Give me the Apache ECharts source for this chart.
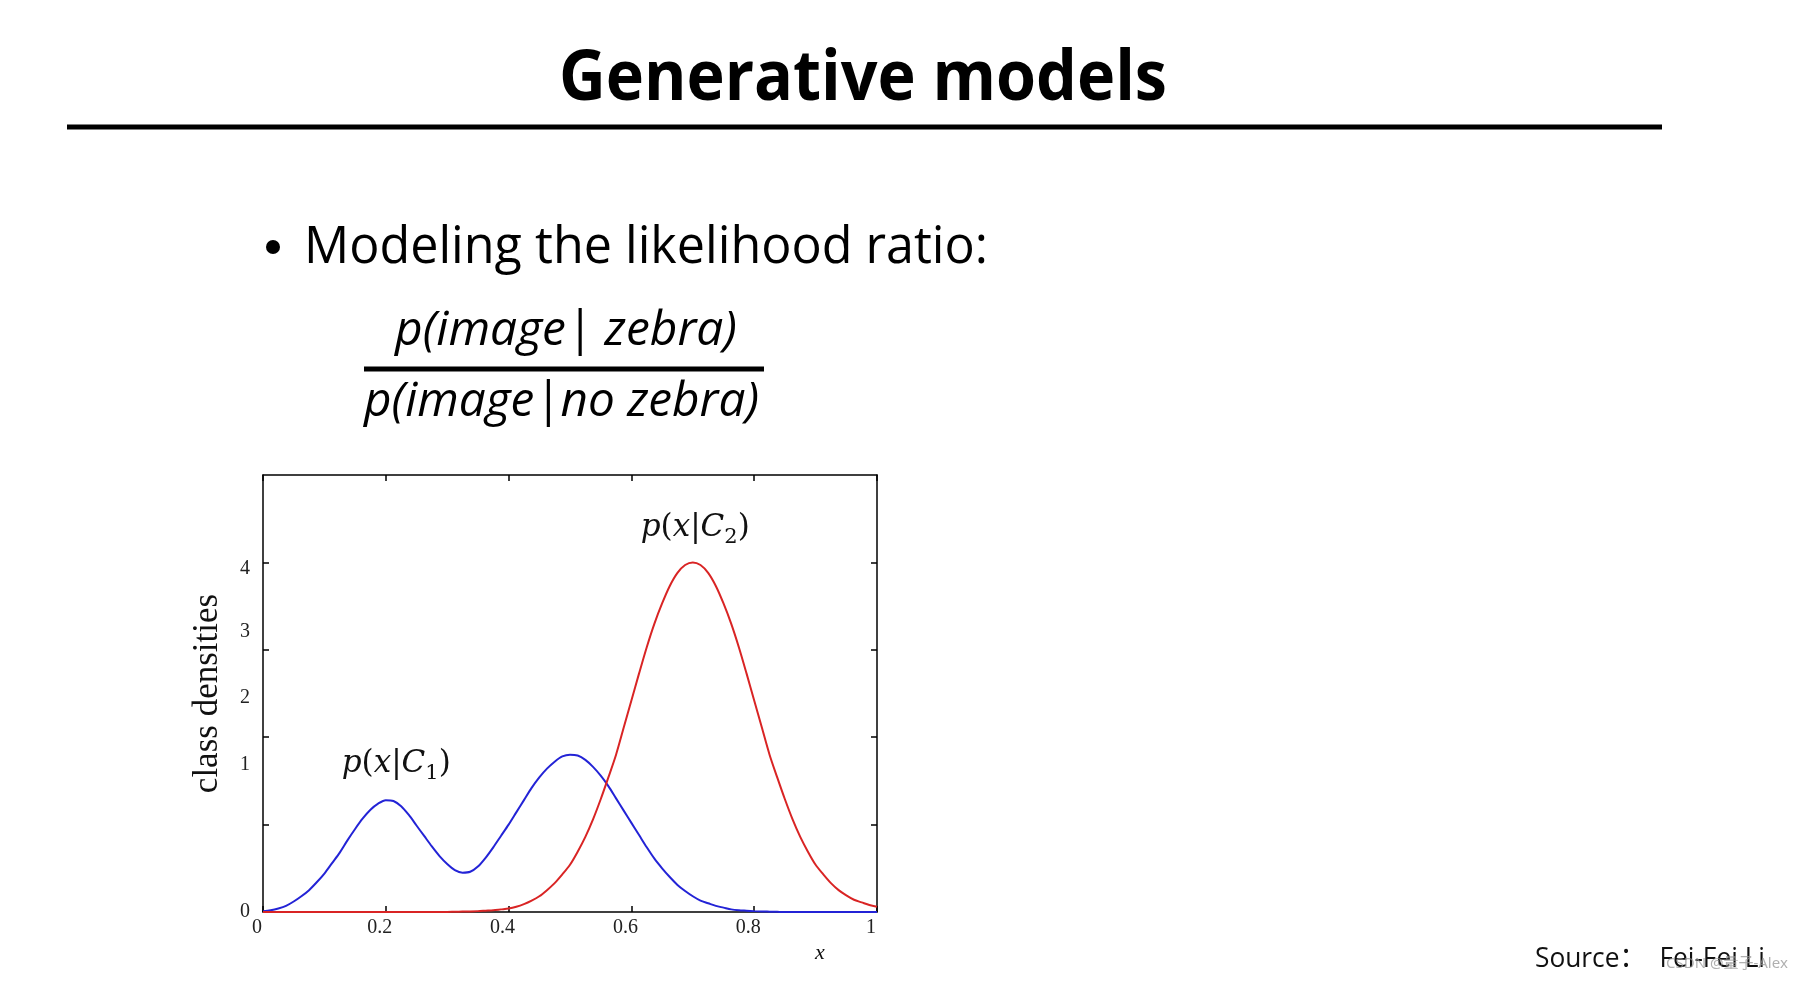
<!DOCTYPE html>
<html><head><meta charset="utf-8">
<script src="https://cdn.jsdelivr.net/npm/echarts@6/dist/echarts.min.js"></script>
<style>html,body{margin:0;padding:0;background:#fff;}#c{width:1812px;height:982px;}</style>
</head><body><div id="c"></div>
<script>
// ---- data ----
const xValues = [0,0.0125,0.025,0.0375,0.05,0.0625,0.075,0.0875,0.1,0.1125,0.125,0.1375,0.15,0.1625,0.175,0.1875,0.2,0.2125,0.225,0.2375,0.25,0.2625,0.275,0.2875,0.3,0.3125,0.325,0.3375,0.35,0.3625,0.375,0.3875,0.4,0.4125,0.425,0.4375,0.45,0.4625,0.475,0.4875,0.5,0.5125,0.525,0.5375,0.55,0.5625,0.575,0.5875,0.6,0.6125,0.625,0.6375,0.65,0.6625,0.675,0.6875,0.7,0.7125,0.725,0.7375,0.75,0.7625,0.775,0.7875,0.8,0.8125,0.825,0.8375,0.85,0.8625,0.875,0.8875,0.9,0.9125,0.925,0.9375,0.95,0.9625,0.975,0.9875,1];
const c1Density = [0.01,0.02,0.04,0.07,0.12,0.18,0.25,0.34,0.44,0.56,0.68,0.82,0.95,1.07,1.17,1.24,1.28,1.27,1.21,1.11,0.99,0.87,0.75,0.64,0.55,0.48,0.45,0.46,0.52,0.62,0.74,0.87,1.00,1.14,1.28,1.42,1.54,1.64,1.72,1.78,1.80,1.79,1.74,1.66,1.56,1.44,1.30,1.16,1.02,0.88,0.74,0.61,0.50,0.40,0.31,0.24,0.18,0.13,0.10,0.07,0.05,0.03,0.02,0.015,0.01,0.006,0.004,0.002,0,0,0,0,0,0,0,0,0,0,0,0,0];
const c2Density = [0,0,0,0,0,0,0,0,0,0,0,0,0,0,0,0,0,0,0,0,0,0,0,0,0,0.003,0.005,0.007,0.01,0.015,0.02,0.03,0.04,0.06,0.09,0.13,0.18,0.25,0.33,0.43,0.54,0.69,0.86,1.06,1.29,1.54,1.80,2.11,2.42,2.73,3.03,3.30,3.53,3.73,3.88,3.97,4.00,3.97,3.88,3.73,3.53,3.30,3.03,2.73,2.42,2.11,1.80,1.54,1.29,1.06,0.86,0.69,0.54,0.43,0.33,0.25,0.19,0.14,0.11,0.08,0.06];
const xTickLabels = ['0','0.2','0.4','0.6','0.8','1'];
const xTickValues = [0,0.2,0.4,0.6,0.8,1];
const yTickLabels = ['0','1','2','3','4'];
const yTickLabelValues = [0, 1.69, 2.45, 3.21, 3.93];
const c1LabelAt = [0.217, 1.69];
const c2LabelAt = [0.704, 4.39];
const titleText = 'Generative models';
const bulletText = 'Modeling the likelihood ratio:';
const numeratorText = 'p(image| zebra)';
const denominatorText = 'p(image|no zebra)';
const sourceText = 'Source\uFF1A  Fei-Fei Li';
const watermarkText = 'CSDN @量子-Alex';
const yAxisName = 'class densities';
const xAxisName = 'x';

// ---- helpers ----
const mctx = document.createElement('canvas').getContext('2d');
function fit(text, font, width){ mctx.font = font; return width / mctx.measureText(text).width; }
function labelFor(values, labels, v){
  for (let i = 0; i < values.length; i++) { if (Math.abs(values[i] - v) < 1e-6) return labels[i]; }
  return '';
}

const fTitle = 'bold 70px "Open Sans"';
const fBullet = '51px "Open Sans"';
const fFrac = 'italic 48px "Open Sans"';
const fSource = '28px "Open Sans", "Noto Sans CJK SC"';

const chart = echarts.init(document.getElementById('c'), null, {renderer:'canvas'});
const c1Data = xValues.map((x,i)=>[x, c1Density[i]]);
const c2Data = xValues.map((x,i)=>[x, c2Density[i]]);
const serif = '"Liberation Serif", "Times New Roman", serif';
const mathFont = '"DejaVu Serif", serif';
const richMath = {
  i:{fontFamily:mathFont, fontStyle:'italic', fontSize:31, lineHeight:40, color:'#111'},
  n:{fontFamily:mathFont, fontSize:31, lineHeight:40, color:'#111'},
  s:{fontFamily:mathFont, fontSize:21, lineHeight:20, verticalAlign:'bottom', color:'#111'}
};
function mathLabel(sub){ return '{i|p}{n|(}{i|x}{n||}{i|C}{s|' + sub + '}{n|)}'; }

const axisLineStyle = {show:true, onZero:false, lineStyle:{color:'#000', width:1.5}};
const tickStyle = {color:'#000', width:1.5};
chart.setOption({
  backgroundColor:'#fff',
  animation:false,
  grid:{left:263, top:475, right:935, bottom:70, containLabel:false},
  xAxis:[{
    type:'value', min:0, max:1, interval:0.2, position:'bottom',
    axisLine:axisLineStyle,
    axisTick:{show:true, inside:true, length:6, lineStyle:tickStyle},
    axisLabel:{show:true, margin:6, fontFamily:serif, fontSize:20, color:'#222', padding:[0,12,0,0],
      formatter:(v)=>labelFor(xTickValues, xTickLabels, v)},
    splitLine:{show:false},
    name:xAxisName, nameLocation:'middle', nameGap:30,
    nameTextStyle:{fontFamily:serif, fontStyle:'italic', fontSize:22, color:'#111', padding:[0,0,0,500]}
  },{
    type:'value', min:0, max:1, interval:0.2, position:'top',
    axisLine:axisLineStyle,
    axisTick:{show:true, inside:true, length:6, lineStyle:tickStyle},
    axisLabel:{show:false}, splitLine:{show:false}
  }],
  yAxis:[{
    type:'value', min:0, max:5, interval:1, position:'left',
    axisLine:axisLineStyle,
    axisTick:{show:true, inside:true, length:6, customValues:[1,2,3,4], lineStyle:tickStyle},
    axisLabel:{show:true, margin:13, fontFamily:serif, fontSize:20, color:'#222',
      customValues:yTickLabelValues, formatter:(v)=>labelFor(yTickLabelValues, yTickLabels, v)},
    splitLine:{show:false},
    name:yAxisName, nameLocation:'middle', nameRotate:90, nameGap:38,
    nameTextStyle:{fontFamily:serif, fontSize:35, color:'#111'}
  },{
    type:'value', min:0, max:5, interval:1, position:'right',
    axisLine:axisLineStyle,
    axisTick:{show:true, inside:true, length:6, customValues:[1,2,3,4], lineStyle:tickStyle},
    axisLabel:{show:false}, splitLine:{show:false}
  }],
  series:[{
    name:'p(x|C1)', type:'line', xAxisIndex:0, yAxisIndex:0, data:c1Data,
    showSymbol:false, smooth:0.3, lineStyle:{color:'#2323d6', width:2},
    markPoint:{symbol:'circle', symbolSize:1, itemStyle:{color:'rgba(0,0,0,0)'},
      label:{show:true, position:'inside', formatter:mathLabel('1'), rich:richMath},
      data:[{coord:c1LabelAt}]}
  },{
    name:'p(x|C2)', type:'line', xAxisIndex:0, yAxisIndex:0, data:c2Data,
    showSymbol:false, smooth:0.3, lineStyle:{color:'#d92424', width:2},
    markPoint:{symbol:'circle', symbolSize:1, itemStyle:{color:'rgba(0,0,0,0)'},
      label:{show:true, position:'inside', formatter:mathLabel('2'), rich:richMath},
      data:[{coord:c2LabelAt}]}
  }],
  graphic:[
    {type:'text', x:559, y:80, scaleX:fit(titleText,fTitle,608),
     style:{text:titleText, font:fTitle, fill:'#000', align:'left', verticalAlign:'middle', textAlign:'left', textVerticalAlign:'middle'}},
    {type:'rect', shape:{x:67, y:124.5, width:1595, height:5}, style:{fill:'#000'}},
    {type:'circle', shape:{cx:273, cy:247, r:7}, style:{fill:'#000'}},
    {type:'text', x:304, y:248, scaleX:fit(bulletText,fBullet,684),
     style:{text:bulletText, font:fBullet, fill:'#000', align:'left', verticalAlign:'middle', textAlign:'left', textVerticalAlign:'middle'}},
    {type:'text', x:395, y:331, scaleX:fit(numeratorText,fFrac,342),
     style:{text:numeratorText, font:fFrac, fill:'#000', align:'left', verticalAlign:'middle', textAlign:'left', textVerticalAlign:'middle'}},
    {type:'rect', shape:{x:364, y:366.5, width:400, height:5}, style:{fill:'#000'}},
    {type:'text', x:364, y:402, scaleX:fit(denominatorText,fFrac,395),
     style:{text:denominatorText, font:fFrac, fill:'#000', align:'left', verticalAlign:'middle', textAlign:'left', textVerticalAlign:'middle'}},
    {type:'text', x:1535, y:959, scaleX:fit(sourceText,fSource,230),
     style:{text:sourceText, font:fSource, fill:'#111', align:'left', verticalAlign:'middle', textAlign:'left', textVerticalAlign:'middle'}},
    {type:'text', x:1666, y:964, z:100,
     style:{text:watermarkText, font:'15px "Noto Sans", "Noto Sans CJK SC"', fill:'rgba(150,150,150,0.75)', align:'left', verticalAlign:'middle', textAlign:'left', textVerticalAlign:'middle'}}
  ]
});
</script></body></html>
